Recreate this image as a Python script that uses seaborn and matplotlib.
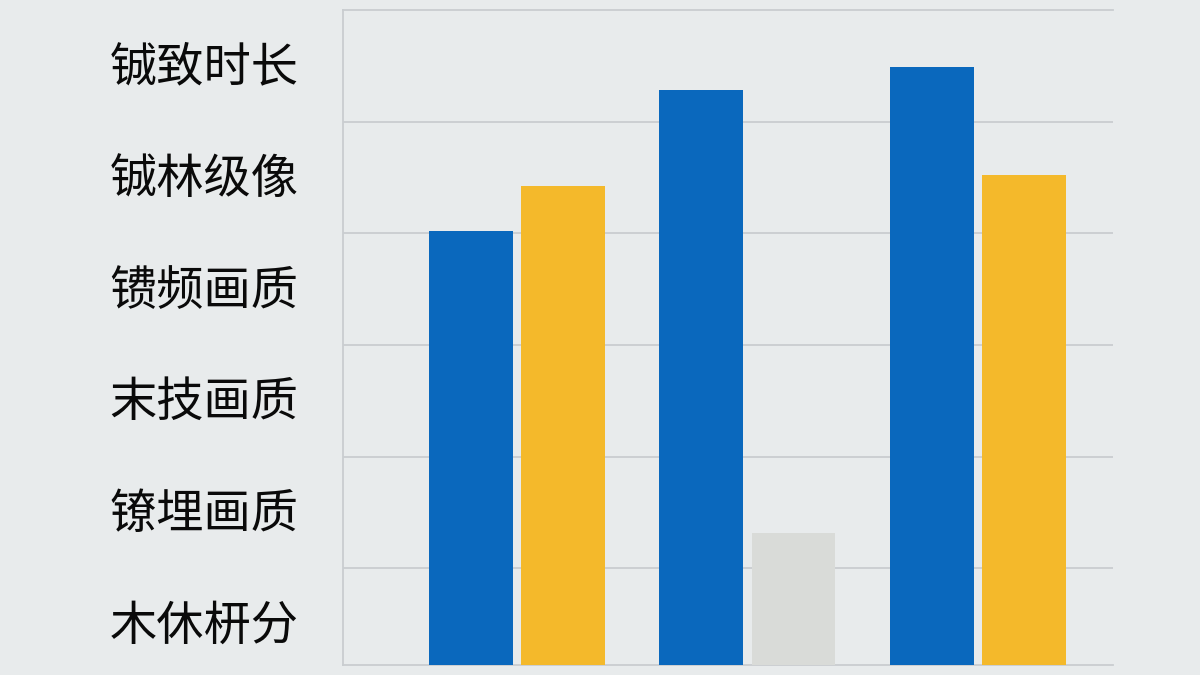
import pandas as pd
import numpy as np
import matplotlib
matplotlib.use('Agg')
import matplotlib.pyplot as plt
import seaborn as sns

# data
groups = ['A', 'B', 'C']
left_values = [4.02, 5.28, 5.49]
right_values = [4.42, 1.32, 4.52]
left_colors = ['#0a68bd', '#0a68bd', '#0a68bd']
right_colors = ['#f4b92b', '#d9dbd8', '#f4b92b']
row_labels = ['铖致时长', '铖林级像', '镄频画质', '末技画质', '镣埋画质', '木休枅分']

bg = '#e8ebec'
grid_col = '#c9cdd0'

sns.set_theme(style='white')
plt.rcParams['font.family'] = ['Noto Sans CJK SC', 'DejaVu Sans']

df = pd.DataFrame({
    'group': groups * 2,
    'series': ['left'] * len(groups) + ['right'] * len(groups),
    'value': left_values + right_values,
})

fig = plt.figure(figsize=(12, 6.75), dpi=100, facecolor=bg)
ax = fig.add_axes([0.2858, 0.0148, 0.6417, 0.9704])
ax.set_facecolor(bg)

sns.barplot(data=df, x='group', y='value', hue='series', order=groups,
            hue_order=['left', 'right'], width=0.8, gap=0.09,
            palette=['#0a68bd', '#f4b92b'], linewidth=0, legend=False,
            zorder=3, ax=ax)

for bar, c in zip(ax.containers[0], left_colors):
    bar.set_facecolor(c)
for bar, c in zip(ax.containers[1], right_colors):
    bar.set_facecolor(c)

ax.set_xlim(-0.755, 2.586)
ax.set_ylim(0.136, 6)

# gridlines between the row labels
ax.set_yticks(np.arange(1, 6), minor=True)
ax.grid(True, which='minor', axis='y', color=grid_col, lw=1.3, zorder=0)
ax.grid(False, which='major')

n = len(row_labels)
ax.set_yticks(np.arange(n)[::-1] + 0.53)
ax.set_yticklabels(row_labels, fontsize=34, color='#0a0a0a', fontweight='medium')
ax.tick_params(axis='y', which='both', length=0, pad=32)
ax.set_xticks([])
ax.set_xlabel('')
ax.set_ylabel('')

for side in ['top', 'left', 'bottom']:
    ax.spines[side].set_visible(True)
    ax.spines[side].set_color(grid_col)
    ax.spines[side].set_linewidth(1.3)
ax.spines['right'].set_visible(False)

fig.savefig('out.png', dpi=100, facecolor=bg)
